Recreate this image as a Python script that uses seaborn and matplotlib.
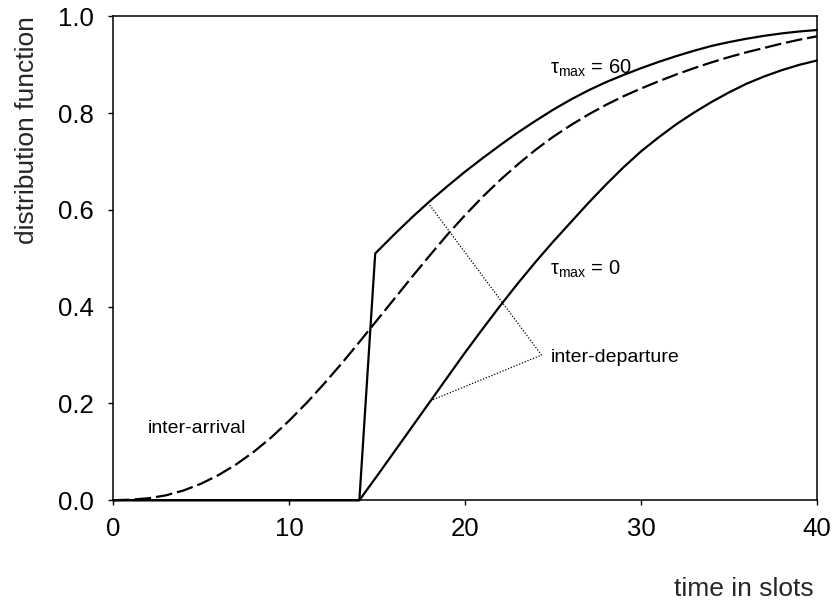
import numpy as np
import pandas as pd
import matplotlib
matplotlib.use("Agg")
import matplotlib.pyplot as plt
import seaborn as sns
from matplotlib.ticker import FormatStrFormatter

# inter-arrival distribution (dashed), one value per slot
arrival_x = list(range(0, 41))
arrival_y = [0.000, 0.001, 0.004, 0.010, 0.020, 0.034, 0.052, 0.074, 0.100, 0.130,
             0.164, 0.201, 0.241, 0.283, 0.327, 0.372, 0.417, 0.462, 0.506, 0.549,
             0.589, 0.627, 0.662, 0.694, 0.724, 0.751, 0.775, 0.797, 0.817, 0.835,
             0.851, 0.866, 0.880, 0.893, 0.905, 0.916, 0.926, 0.935, 0.944, 0.952,
             0.959]

# inter-departure, tau_max = 60
tau60_x = [0, 14, 14.9] + list(range(16, 41))
tau60_y = [0.000, 0.000, 0.510, 0.550, 0.585, 0.618, 0.649, 0.679, 0.707, 0.734,
           0.760, 0.784, 0.807, 0.828, 0.847, 0.864, 0.879, 0.893, 0.906, 0.918,
           0.929, 0.939, 0.947, 0.954, 0.960, 0.965, 0.969, 0.972]

# inter-departure, tau_max = 0
tau0_x = [0] + list(range(14, 41))
tau0_y = [0.000, 0.000, 0.050, 0.101, 0.152, 0.203, 0.254, 0.305, 0.354, 0.402,
          0.448, 0.492, 0.534, 0.574, 0.614, 0.652, 0.688, 0.721, 0.750, 0.777,
          0.801, 0.823, 0.843, 0.861, 0.876, 0.889, 0.900, 0.909]

# dotted leader lines for the "inter-departure" label
leader_x = [18.0, 24.35, 18.0]
leader_y = [0.610, 0.300, 0.205]

x_ticks = [0, 10, 20, 30, 40]
y_ticks = [0.0, 0.2, 0.4, 0.6, 0.8, 1.0]

sns.set_theme(style="white")
plt.rcParams['font.family'] = ['Liberation Sans', 'DejaVu Sans']
plt.rcParams['mathtext.fontset'] = 'custom'
plt.rcParams['mathtext.rm'] = 'Liberation Sans'
plt.rcParams['mathtext.it'] = 'Liberation Sans:italic'

fig = plt.figure(figsize=(8.35, 6.10), dpi=100)
ax = fig.add_axes([0.1353, 0.180, 0.8431, 0.793])

sns.lineplot(x=arrival_x, y=arrival_y, ax=ax, color='black', lw=1.6,
             linestyle=(0, (7.5, 2.2)), estimator=None, clip_on=False)
sns.lineplot(x=tau60_x, y=tau60_y, ax=ax, color='black', lw=1.6,
             estimator=None, clip_on=False)
sns.lineplot(x=tau0_x, y=tau0_y, ax=ax, color='black', lw=1.6,
             estimator=None, clip_on=False)
sns.lineplot(x=leader_x, y=leader_y, ax=ax, color='black', lw=0.9,
             linestyle=(0, (1, 1.4)), sort=False, estimator=None)

txt = dict(color='black', va='center', ha='left')
ax.text(24.85, 0.893, r"$\mathregular{\tau_{max}}$ = 60", fontsize=14.5, **txt)
ax.text(24.85, 0.478, r"$\mathregular{\tau_{max}}$ = 0", fontsize=14.5, **txt)
ax.text(24.9, 0.296, "inter-departure", fontsize=14, **txt)
ax.text(2.0, 0.148, "inter-arrival", fontsize=14, **txt)

ax.set_xlim(0, 40)
ax.set_ylim(0, 1)
ax.set_xticks(x_ticks)
ax.set_yticks(y_ticks)
ax.yaxis.set_major_formatter(FormatStrFormatter('%.1f'))
ax.tick_params(axis='both', direction='out', length=3.5, width=1.0,
               labelsize=18.5, colors='black')
ax.tick_params(axis='x', pad=8.5)
ax.tick_params(axis='y', pad=10)
ax.tick_params(bottom=True, left=True)

for side, sp in ax.spines.items():
    sp.set_color('black')
    sp.set_linewidth(1.1)

ax.set_xlabel("time in slots", fontsize=19, loc='right')
ax.xaxis.set_label_coords(0.995, -0.159)
ax.set_ylabel("distribution function", fontsize=19, loc='top')
ax.yaxis.set_label_coords(-0.105, 1.0)

fig.savefig("out.png", dpi=100)
